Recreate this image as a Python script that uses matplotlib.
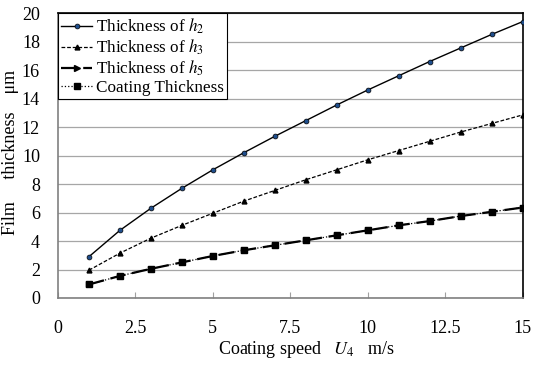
import matplotlib
matplotlib.use('Agg')
import matplotlib.pyplot as plt

plt.rcParams['font.family'] = ['Liberation Serif', 'DejaVu Serif']
plt.rcParams['mathtext.fontset'] = 'stix'

# coating speed U4 (m/s)
speed = [1, 2, 3, 4, 5, 6, 7, 8, 9, 10, 11, 12, 13, 14, 15]
# film thickness (um)
h2 = [2.9, 4.75, 6.3, 7.7, 9.0, 10.2, 11.35, 12.45, 13.55, 14.6, 15.6, 16.6, 17.55, 18.5, 19.4]
h3 = [1.95, 3.15, 4.2, 5.1, 5.95, 6.8, 7.55, 8.3, 9.0, 9.7, 10.35, 11.0, 11.65, 12.25, 12.85]
h5 = [0.95, 1.55, 2.05, 2.5, 2.95, 3.35, 3.7, 4.05, 4.4, 4.75, 5.1, 5.4, 5.75, 6.05, 6.35]
coating = [0.95, 1.55, 2.05, 2.5, 2.95, 3.35, 3.7, 4.05, 4.4, 4.75, 5.1, 5.4, 5.75, 6.05, 6.35]

xticks = [0, 2.5, 5, 7.5, 10, 12.5, 15]
xtick_labels = ['0', '2.5', '5', '7.5', '10', '12.5', '15']
yticks = [0, 2, 4, 6, 8, 10, 12, 14, 16, 18, 20]

fig = plt.figure(figsize=(5.34, 3.70), dpi=100)
ax = fig.add_axes([0.1086, 0.1946, 0.870, 0.770])

ax.plot(speed, h2, color='black', lw=1.0, marker='o', ms=3.5,
        mfc='#1f4e8c', mec='black', mew=0.5, label='Thickness of $h_2$', zorder=4)
ax.plot(speed, h3, color='black', lw=0.9, ls=(0, (3, 1.5)), marker='^', ms=3.5,
        label='Thickness of $h_3$', zorder=4)
ax.plot(speed, h5, color='black', lw=1.6, ls=(0, (7, 3)), marker='>', ms=4,
        label='Thickness of $h_5$', zorder=3)
ax.plot(speed, coating, color='black', lw=0.9, ls=':', marker='s', ms=4,
        label='Coating Thickness', zorder=5)

ax.set_xlim(0, 15)
ax.set_ylim(0, 20)
ax.set_xticks(xticks)
ax.set_xticklabels(xtick_labels)
ax.set_yticks(yticks)
ax.yaxis.grid(True, color='#a6a6a6', lw=0.9)
ax.set_axisbelow(True)

ax.tick_params(axis='x', direction='in', length=4, color='#a0a0a0', pad=16, labelsize=13)
ax.tick_params(axis='y', length=0, pad=13, labelsize=13)

for side in ['top', 'right']:
    ax.spines[side].set_color('black')
    ax.spines[side].set_linewidth(1.2)
for side in ['left', 'bottom']:
    ax.spines[side].set_color('#808080')
    ax.spines[side].set_linewidth(1.2)

ax.set_xlabel('Coating speed   $U_4$   m/s', fontsize=13, labelpad=1)
ax.xaxis.label.set_x(0.535)
ax.set_ylabel('Film     thickness    μm', fontsize=13)
ax.yaxis.set_label_coords(-0.084, 0.51)

leg = ax.legend(loc='upper left', fontsize=12.3, frameon=True, fancybox=False,
                edgecolor='black', framealpha=1, borderaxespad=0, handlelength=1.8,
                handletextpad=0.2, labelspacing=0.1, borderpad=0.2)
leg.get_frame().set_linewidth(0.8)

fig.savefig('out.png', dpi=100)
